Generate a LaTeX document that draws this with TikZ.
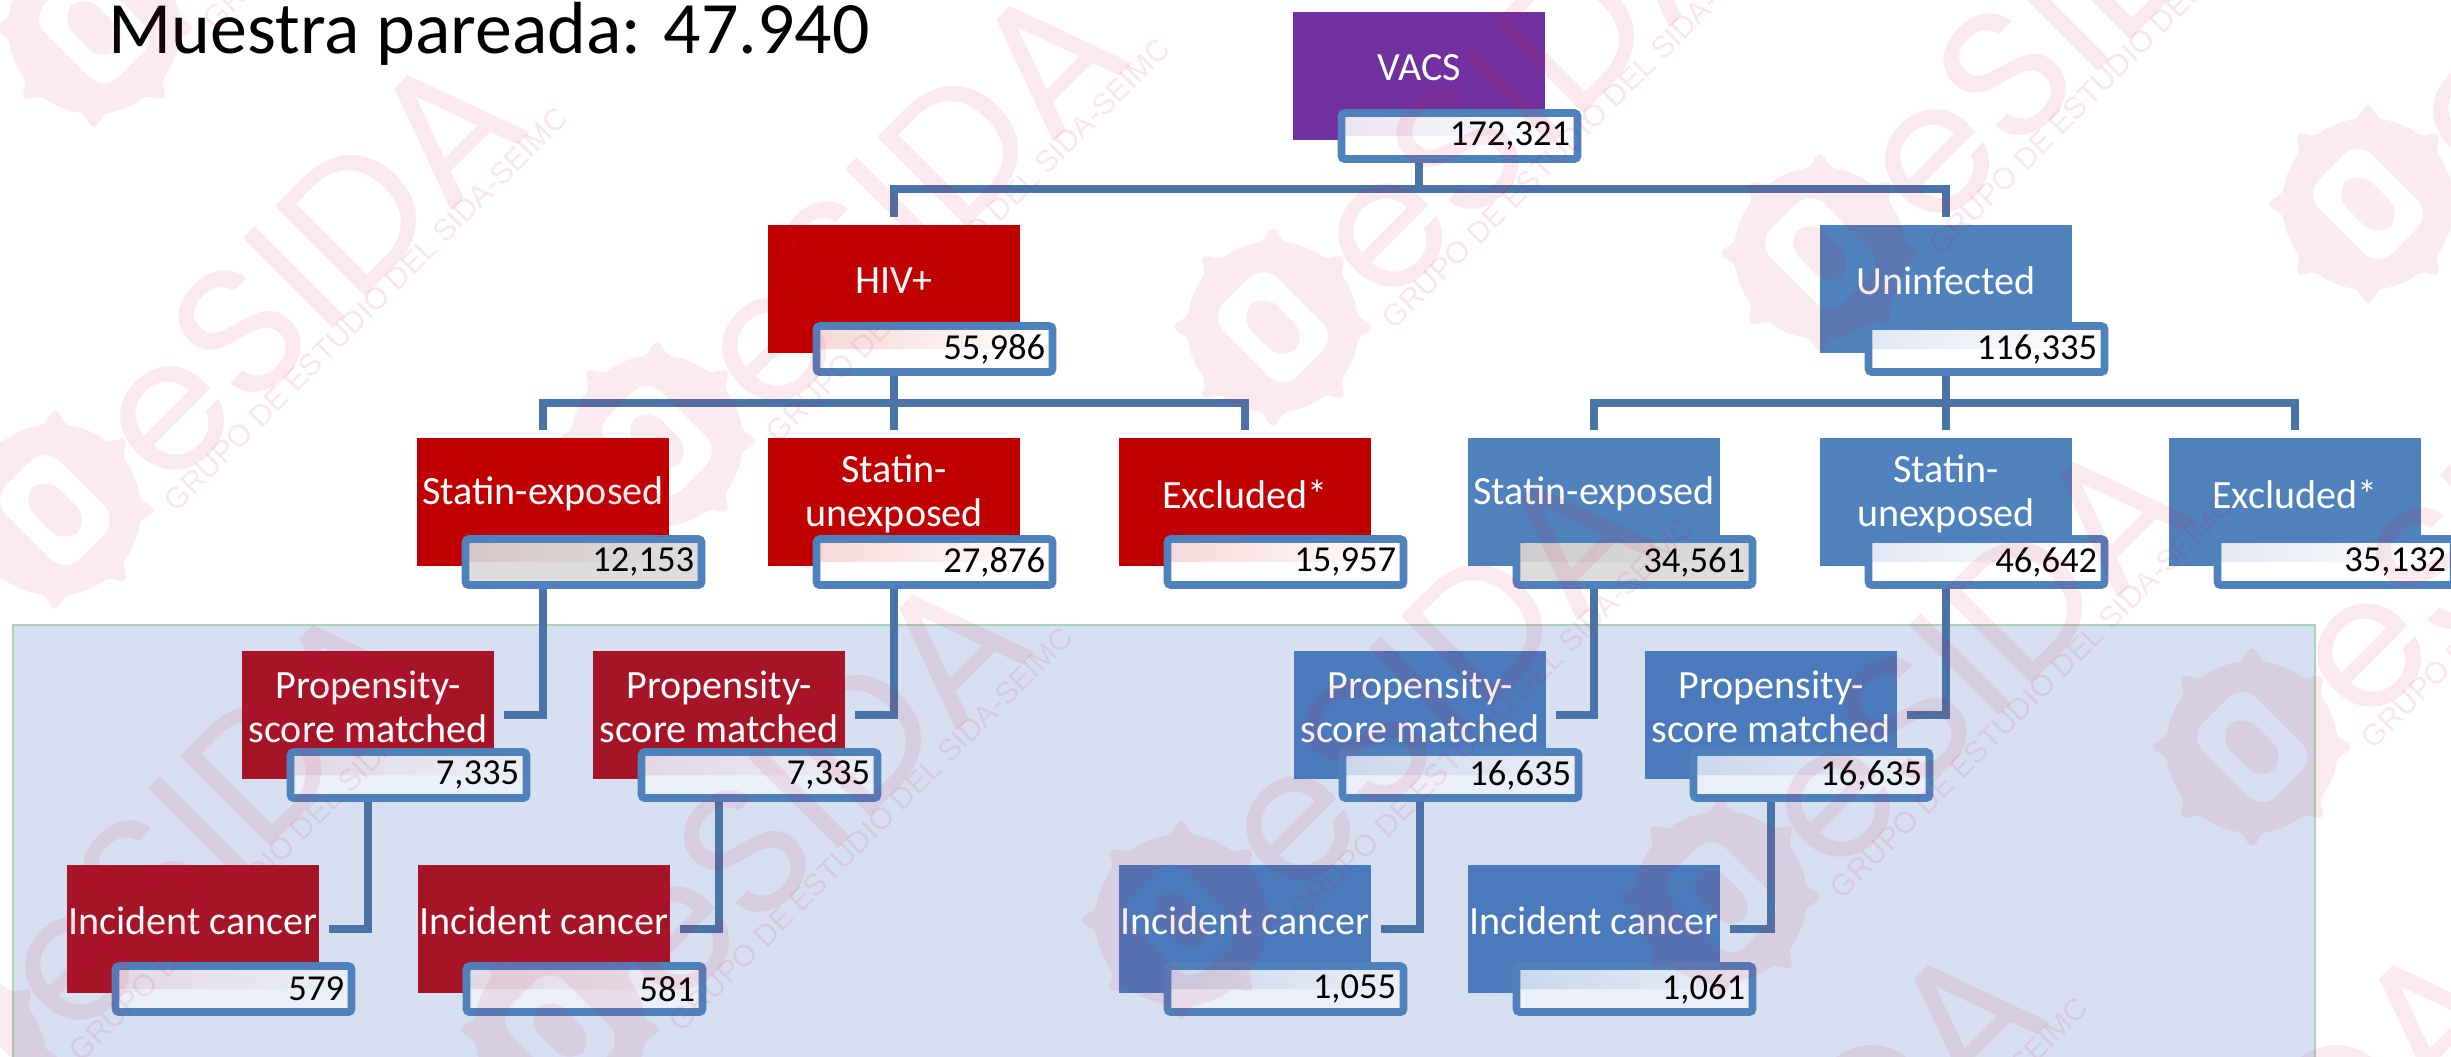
\documentclass[tikz,border=0pt]{standalone}
\usepackage{fontspec}
\setmainfont{Carlito}
\newfontfamily\logofont{Poppins}
\newfontfamily\smallfont{Liberation Sans}
\usetikzlibrary{calc}
\definecolor{vacsc}{HTML}{7030A0}
\definecolor{redc}{HTML}{C00000}
\definecolor{redp}{HTML}{A61428}
\definecolor{bluec}{HTML}{4F81BD}
\definecolor{bluep}{HTML}{4A7ABB}
\definecolor{linec}{HTML}{4A74A8}
\definecolor{pinkt}{HTML}{F8D8D8}
\definecolor{bluet}{HTML}{E2E7F2}
\definecolor{lilat}{HTML}{E9E3F0}
\definecolor{greyb}{HTML}{DDDDDD}
\definecolor{greyr}{HTML}{D8C6C6}
\definecolor{greyt}{HTML}{CDCDCD}
\definecolor{panelf}{HTML}{D7E0F1}
\definecolor{panele}{HTML}{A9D3B4}
\definecolor{panelb}{HTML}{EBEFF8}
\definecolor{panelr}{HTML}{E2D8E4}
\definecolor{panelt}{HTML}{CAD7EC}
\definecolor{markc}{HTML}{D81040}
\tikzset{bx/.style={rectangle,minimum width=2.52cm,minimum height=1.27cm,inner sep=0pt}}
\tikzset{tx/.style={font=\fontsize{11.4}{12.5}\selectfont,text=white,align=center,yshift=.08cm}}
\tikzset{vl/.style 2 args={rectangle,draw=bluec,line width=2.2pt,rounded corners=1pt,fill=#2,minimum width=2.36cm,minimum height=.46cm,inner xsep=.075cm,inner ysep=0pt,text width=2.21cm,align=right,font=\fontsize{10.4}{12}\selectfont,path picture={\fill [left color=#1,right color=#2] (path picture bounding box.north west) rectangle (path picture bounding box.east);}}}
\tikzset{cn/.style={draw=linec,line width=2.4pt}}
\tikzset{panel/.style={draw=panele,line width=.6pt,fill=panelf}}
\tikzset{wm/.style={fill=markc,fill opacity=.085,even odd rule}}
\tikzset{wt/.style={anchor=west,inner sep=0pt,text=markc,transform shape}}
\newcommand{\block}[8]{
  \node (#1) at (#2,#3) [bx,fill=#4] {};
  \node (#1t) at (#1) [tx] {#5};
  \node (#1v) at ([xshift=.405cm,yshift=-.6cm]#1.center) [vl={#7}{#8}] {#6};
}
\newcommand{\gesida}[3]{
  \begin{scope}[shift={(#2,#3)},rotate=45]
    \path [wm] plot [domain=0:359,samples=180] ({(86+13*max(0,cos(8*\x))^4)*cos(\x)},{(86+13*max(0,cos(8*\x))^4)*sin(\x)}) -- cycle
      [rounded corners=6pt] (-38,-52) rectangle (38,52) (-18,-32) rectangle (18,32);
    \node (e#1) at (90,5) [wt,text opacity=.09,font=\logofont\fontsize{52}{52}\selectfont] {eSIDA};
    \node (g#1) at (83,78) [wt,text opacity=.1,font=\smallfont\fontsize{8.6}{9}\selectfont] {GRUPO DE ESTUDIO DEL SIDA-SEIMC};
  \end{scope}
}
\begin{document}
\begin{tikzpicture}[x=.01cm,y=-.01cm]
  \useasboundingbox (0,0) rectangle (2451,1056);
  \fill [white] (0,0) rectangle (2451,1056);
  \draw [panel] (13,625) rectangle (2315,1075);
  \node (title) at (108,53) [anchor=base west,inner sep=0pt,font=\fontsize{21}{22}\selectfont] {Muestra pareada: 47.940};
  \block{V}{1419}{76}{vacsc}{VACS}{172,321}{lilat}{white}
  \block{H}{894}{289}{redc}{HIV+}{55,986}{pinkt}{white}
  \block{U}{1946}{289}{bluec}{Uninfected}{116,335}{bluet}{white}
  \block{HA}{543}{502}{redc}{Statin-exposed}{12,153}{greyr}{greyb}
  \block{HB}{894}{502}{redc}{Statin-\\unexposed}{27,876}{pinkt}{white}
  \block{HC}{1245}{502}{redc}{Excluded*}{15,957}{pinkt}{white}
  \block{UA}{1594}{502}{bluec}{Statin-exposed}{34,561}{greyt}{greyb}
  \block{UB}{1946}{502}{bluec}{Statin-\\unexposed}{46,642}{bluet}{white}
  \block{UC}{2295}{502}{bluec}{Excluded*}{35,132}{bluet}{white}
  \block{HP}{368}{715}{redp}{Propensity-\\score matched}{7,335}{panelr}{panelb}
  \block{HQ}{719}{715}{redp}{Propensity-\\score matched}{7,335}{panelr}{panelb}
  \block{UP}{1420}{715}{bluep}{Propensity-\\score matched}{16,635}{panelt}{panelb}
  \block{UQ}{1771}{715}{bluep}{Propensity-\\score matched}{16,635}{panelt}{panelb}
  \block{HI}{193}{929}{redp}{Incident cancer}{579}{panelr}{panelb}
  \block{HJ}{544}{929}{redp}{Incident cancer}{581}{panelr}{panelb}
  \block{UI}{1245}{929}{bluep}{Incident cancer}{1,055}{panelt}{panelb}
  \block{UJ}{1594}{929}{bluep}{Incident cancer}{1,061}{panelt}{panelb}
  \coordinate (VB) at (1419,189);
  \coordinate (HB0) at (894,403);
  \coordinate (UB0) at (1946,403);
  \draw [cn] (V.center |- Vv.south) -- (VB);
  \draw [cn,shorten >=.08cm] (VB) -| (H.north);
  \draw [cn,shorten >=.08cm] (VB) -| (U.north);
  \draw [cn] (H.center |- Hv.south) -- (HB0);
  \draw [cn,shorten >=.08cm] (HB0) -| (HA.north);
  \draw [cn,shorten >=.08cm] (HB0) -- (HB.north);
  \draw [cn,shorten >=.08cm] (HB0) -| (HC.north);
  \draw [cn] (U.center |- Uv.south) -- (UB0);
  \draw [cn,shorten >=.08cm] (UB0) -| (UA.north);
  \draw [cn,shorten >=.08cm] (UB0) -- (UB.north);
  \draw [cn,shorten >=.08cm] (UB0) -| (UC.north);
  \draw [cn,shorten >=.09cm] (HA.center |- HAv.south) |- (HP.east);
  \draw [cn,shorten >=.09cm] (HB.center |- HBv.south) |- (HQ.east);
  \draw [cn,shorten >=.09cm] (UA.center |- UAv.south) |- (UP.east);
  \draw [cn,shorten >=.09cm] (UB.center |- UBv.south) |- (UQ.east);
  \draw [cn,shorten >=.09cm] (HP.center |- HPv.south) |- (HI.east);
  \draw [cn,shorten >=.09cm] (HQ.center |- HQv.south) |- (HJ.east);
  \draw [cn,shorten >=.09cm] (UP.center |- UPv.south) |- (UI.east);
  \draw [cn,shorten >=.09cm] (UQ.center |- UQv.south) |- (UJ.east);
  \gesida{a}{55}{510}
  \gesida{b}{657}{441}
  \gesida{c}{1273}{327}
  \gesida{d}{1820}{253}
  \gesida{f}{2368}{204}
  \gesida{h}{94}{28}
  \gesida{i}{560}{1030}
  \gesida{j}{1181}{920}
  \gesida{k}{1721}{897}
  \gesida{l}{2252}{747}
  \gesida{m}{-40}{1060}
  \gesida{n}{1575}{1400}
  \gesida{o}{2040}{1400}
\end{tikzpicture}
\end{document}
